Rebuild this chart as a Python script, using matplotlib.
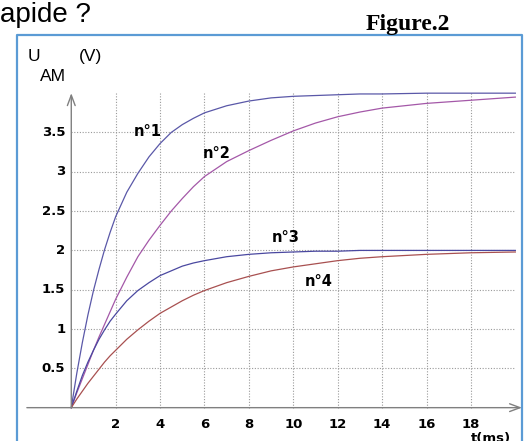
import matplotlib
matplotlib.use('Agg')
import matplotlib.pyplot as plt
from matplotlib.lines import Line2D

# --- DATA ---
t_ms = [0, 0.25, 0.5, 0.75, 1, 1.25, 1.5, 1.75, 2, 2.5, 3, 3.5, 4, 4.5, 5, 5.5, 6,
        7, 8, 9, 10, 11, 12, 13, 14, 16, 18, 20]
u_1 = [0, 0.44, 0.83, 1.18, 1.49, 1.76, 2.01, 2.23, 2.43, 2.74, 2.98, 3.19, 3.36, 3.50, 3.60, 3.68, 3.75,
       3.84, 3.90, 3.94, 3.96, 3.97, 3.98, 3.99, 3.99, 4.00, 4.00, 4.00]
u_2 = [0, 0.19, 0.37, 0.55, 0.73, 0.90, 1.06, 1.22, 1.38, 1.66, 1.92, 2.13, 2.32, 2.50, 2.66, 2.81, 2.94,
       3.13, 3.27, 3.40, 3.52, 3.62, 3.70, 3.76, 3.81, 3.87, 3.91, 3.95]
u_3 = [0, 0.21, 0.41, 0.58, 0.73, 0.87, 0.99, 1.10, 1.19, 1.36, 1.49, 1.59, 1.68, 1.74, 1.80, 1.84, 1.87,
       1.92, 1.95, 1.97, 1.98, 1.99, 1.99, 2.00, 2.00, 2.00, 2.00, 2.00]
u_4 = [0, 0.11, 0.21, 0.31, 0.40, 0.49, 0.58, 0.66, 0.73, 0.87, 0.99, 1.10, 1.20, 1.28, 1.36, 1.43, 1.49,
       1.59, 1.67, 1.74, 1.79, 1.83, 1.87, 1.90, 1.92, 1.95, 1.97, 1.98]

x_ticks = [2, 4, 6, 8, 10, 12, 14, 16, 18]
y_ticks = [0.5, 1, 1.5, 2, 2.5, 3, 3.5]
y_tick_labels = ['0.5', '1', '1.5', '2', '2.5', '3', '3.5']

curve_names = ['n°1', 'n°2', 'n°3', 'n°4']
curve_colors = ['#5a58a8', '#a458a8', '#4a48a0', '#a85050']

# --- FIGURE ---
fig = plt.figure(figsize=(5.28, 4.41), dpi=100)
ax = fig.add_axes([0, 0, 1, 1])
ax.set_xlim(-3.21, 20.57)
ax.set_ylim(-0.424, 5.185)
ax.axis('off')

# grid
grid_kw = dict(color='#9a9a9a', lw=0.8, ls=(0, (1, 1.5)))
for xt in x_ticks:
    ax.plot([xt, xt], [0, 4.0], **grid_kw)
for yt in y_ticks:
    ax.plot([0, 20.0], [yt, yt], **grid_kw)

# axes with arrows
arr = dict(arrowstyle='->,head_length=0.75,head_width=0.28', color='#808080', lw=1.0,
           shrinkA=0, shrinkB=0)
ax.annotate('', xy=(20.3, 0), xytext=(-2.0, 0), arrowprops=arr)
ax.annotate('', xy=(0, 4.0), xytext=(0, 0), arrowprops=arr)

# tick labels
for xt in x_ticks:
    ax.text(xt, -0.21, str(xt), ha='center', va='center', fontsize=9.5, fontweight='bold')
for yt, lab in zip(y_ticks, y_tick_labels):
    ax.text(-0.27, yt, lab, ha='right', va='center', fontsize=9.5, fontweight='bold')
ax.text(18.9, -0.31, 't(ms)', ha='center', va='top', fontsize=9.5, fontweight='bold')

# curves
for u, c in zip([u_1, u_2, u_3, u_4], curve_colors):
    ax.plot(t_ms, u, color=c, lw=0.9)

label_pos = [(3.45, 3.51), (6.55, 3.23), (9.66, 2.16), (11.15, 1.60)]
for name, (lx, ly) in zip(curve_names, label_pos):
    ax.text(lx, ly, name, ha='center', va='center', fontsize=10.5, fontweight='bold')

# --- TEXT AROUND THE PLOT ---
W, H = 528.0, 441.0
fig.text(0 / W, 1 - 21.7 / H, 'apide ?', fontsize=20, family='Liberation Sans', va='baseline')
fig.text(408 / W, 1 - 30 / H, 'Figure.2', fontsize=17, family='Liberation Serif',
         fontweight='bold', ha='center', va='baseline')
fig.text(28 / W, 1 - 61 / H, 'U', fontsize=12.5, family='Liberation Sans', va='baseline')
fig.text(40 / W, 1 - 81 / H, 'AM', fontsize=12.5, family='Liberation Sans', va='baseline')
fig.text(79 / W, 1 - 61 / H, '(V)', fontsize=12.5, family='Liberation Sans', va='baseline')

# blue frame
frame_x = [17 / W, 17 / W, 522 / W, 522 / W]
frame_y = [0, 1 - 34.5 / H, 1 - 34.5 / H, 0]
fig.add_artist(Line2D(frame_x, frame_y, color='#5b9bd5', lw=1.6, transform=fig.transFigure))

fig.savefig('out.png', dpi=100)
